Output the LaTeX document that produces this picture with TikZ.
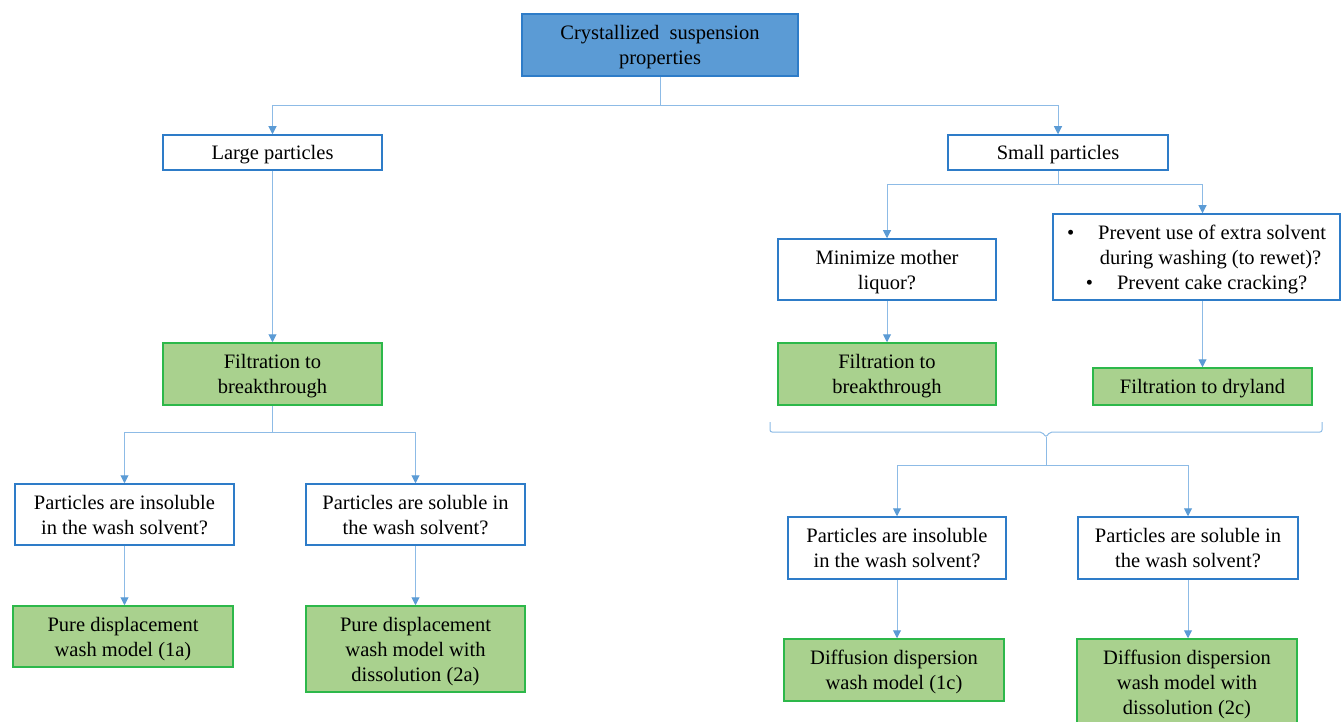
\documentclass[tikz,border=0pt]{standalone}
\usepackage{fontspec}
\setmainfont{Liberation Serif}
\usetikzlibrary{arrows.meta}
\definecolor{topfill}{HTML}{5B9BD5}
\definecolor{topline}{HTML}{2E7CC8}
\definecolor{boxline}{HTML}{2E7CC8}
\definecolor{gfill}{HTML}{A9D18E}
\definecolor{gline}{HTML}{2DB84A}
\definecolor{conncol}{HTML}{8DBBE6}
\definecolor{arrcol}{HTML}{5B9BD5}
\tikzset{
  basebox/.style={draw, line width=1.5pt, align=center, inner sep=2pt, text depth=-1pt,
    font=\fontsize{20.5pt}{25pt}\selectfont},
  tbox/.style={basebox, fill=topfill, draw=topline},
  wbox/.style={basebox, fill=white, draw=boxline},
  gbox/.style={basebox, fill=gfill, draw=gline},
  conn/.style={draw=conncol, line width=1pt},
  arr/.style={conn, -{Triangle[length=8pt,width=8pt,fill=arrcol,color=arrcol]}},
}
\begin{document}
\begin{tikzpicture}[x=1pt,y=-1pt]
\clip (0,0) rectangle (1342,722);
\fill[white] (0,0) rectangle (1342,722);
% nodes
\node[tbox, minimum width=276pt, minimum height=62pt] (top) at (660,45) {Crystallized\ \ suspension\\properties};
\node[wbox, minimum width=219pt, minimum height=35pt] (large) at (272.5,152.5) {Large particles};
\node[wbox, minimum width=220pt, minimum height=35pt] (small) at (1058,152.5) {Small particles};
\node[gbox, minimum width=219pt, minimum height=62pt] (filtL) at (272.5,374) {Filtration to\\breakthrough};
\node[wbox, minimum width=219pt, minimum height=61pt] (insL) at (124.5,514.5) {Particles\ are\ insoluble\\in the wash solvent?};
\node[wbox, minimum width=219pt, minimum height=61pt] (solL) at (415.5,514.5) {Particles\ are\ soluble\ in\\the wash solvent?};
\node[gbox, minimum width=220pt, minimum height=61pt] (pureA) at (123,636.5) {Pure displacement\\wash model (1a)};
\node[gbox, minimum width=219pt, minimum height=86pt] (pureB) at (415.5,649) {Pure displacement\\wash model with\\dissolution (2a)};
\node[wbox, minimum width=218pt, minimum height=61pt] (minim) at (887,269.5) {Minimize mother\\liquor?};
\node[wbox, minimum width=287pt, minimum height=86pt] (prev) at (1196.5,257) {\textbullet\hspace{24pt}Prevent use of extra solvent\\\hspace*{28pt}during washing (to rewet)?\\\textbullet\hspace{24pt}Prevent cake cracking?};
\node[gbox, minimum width=218pt, minimum height=62pt] (filtR) at (887,374) {Filtration to\\breakthrough};
\node[gbox, minimum width=219pt, minimum height=37pt] (dry) at (1202.5,386.5) {Filtration to dryland};
\node[wbox, minimum width=218pt, minimum height=62pt] (insR) at (897,548) {Particles\ are\ insoluble\\in the wash solvent?};
\node[wbox, minimum width=220pt, minimum height=62pt] (solR) at (1188,548) {Particles\ are\ soluble\ in\\the wash solvent?};
\node[gbox, minimum width=220pt, minimum height=62pt] (diffA) at (894,670) {Diffusion dispersion\\wash model (1c)};
\node[gbox, minimum width=220pt, minimum height=86pt] (diffB) at (1187,682) {Diffusion dispersion\\wash model with\\dissolution (2c)};
% connectors
\draw[conn] (top.south) -- (660,106) coordinate (j1);
\draw[arr] (j1) -| (large.north);
\draw[arr] (j1) -| (small.north);
\draw[arr] (large.south) -- (filtL.north);
\draw[conn] (filtL.south) -- (272.5,432) coordinate (j2);
\draw[arr] (j2) -| (insL.north);
\draw[arr] (j2) -| (solL.north);
\draw[arr] (insL.south) -- (insL.south |- pureA.north);
\draw[arr] (solL.south) -- (pureB.north);
\draw[conn] (small.south) -- (1058,185) coordinate (j3);
\draw[arr] (j3) -| (minim.north);
\draw[arr] (j3) -| (dry.north |- prev.north);
\draw[arr] (minim.south) -- (filtR.north);
\draw[arr] (dry.north |- prev.south) -- (dry.north);
% brace
\coordinate (bl) at (770,422);
\coordinate (br) at (1322,422);
\coordinate (bm) at (1046,437);
\draw[conn, rounded corners=2pt] (bl) -- (770,432) -- (1042,432) -- (bm) -- (1050,432) -- (1322,432) -- (br);
\draw[conn] (bm) -- (1046,465) coordinate (j5);
\draw[arr] (j5) -| (insR.north);
\draw[arr] (j5) -| (solR.north);
\draw[arr] (insR.south) -- (insR.south |- diffA.north);
\draw[arr] (solR.south) -- (solR.south |- diffB.north);
\end{tikzpicture}
\end{document}
